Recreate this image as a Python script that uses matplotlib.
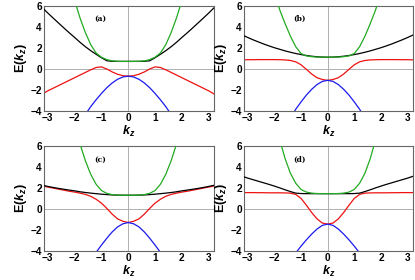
import numpy as np
import matplotlib
matplotlib.use("Agg")
import matplotlib.pyplot as plt

nan = np.nan

# band energies E(kz) for four parameter sets
kz = [-3.2, -3.0, -2.8, -2.6, -2.4, -2.2, -2.0, -1.8, -1.6, -1.4, -1.2, -1.0,
      -0.8, -0.6, -0.4, -0.2, 0.0, 0.2, 0.4, 0.6, 0.8, 1.0, 1.2, 1.4, 1.6,
      1.8, 2.0, 2.2, 2.4, 2.6, 2.8, 3.0, 3.2]

a_black = [5.80, 5.30, 4.82, 4.35, 3.88, 3.42, 2.98, 2.52, 2.10, 1.72, 1.38, 1.05,
           0.76, 0.71, 0.70, 0.70, 0.70, 0.70, 0.70, 0.71, 0.76, 1.05, 1.38, 1.72,
           2.10, 2.52, 2.98, 3.42, 3.88, 4.35, 4.82, 5.30, 5.80]
a_green = [nan] * 6 + [6.50, 4.85, 3.45, 2.30, 1.50, 1.10, 0.87, 0.75, 0.71, 0.70,
                      0.70,
                      0.70, 0.71, 0.75, 0.87, 1.10, 1.50, 2.30, 3.45, 4.85, 6.50] + [nan] * 6
a_red = [-2.40, -2.10, -1.85, -1.60, -1.35, -1.10, -0.85, -0.60, -0.35, -0.10, 0.12, 0.18,
         -0.02, -0.30, -0.52, -0.66, -0.70, -0.66, -0.52, -0.30, -0.02, 0.18, 0.12, -0.10,
         -0.35, -0.60, -0.85, -1.10, -1.35, -1.60, -1.85, -2.10, -2.40]
a_blue = [nan] * 8 + [-4.35, -3.60, -2.95, -2.35, -1.80, -1.35, -1.00, -0.78,
                     -0.70,
                     -0.78, -1.00, -1.35, -1.80, -2.35, -2.95, -3.60, -4.35] + [nan] * 8

b_black = [3.20, 2.97, 2.75, 2.55, 2.35, 2.17, 2.00, 1.85, 1.70, 1.57, 1.45, 1.35,
           1.26, 1.19, 1.14, 1.11, 1.10, 1.11, 1.14, 1.19, 1.26, 1.35, 1.45, 1.57,
           1.70, 1.85, 2.00, 2.17, 2.35, 2.55, 2.75, 2.97, 3.20]
b_green = [nan] * 6 + [7.20, 5.60, 4.30, 3.10, 2.10, 1.45, 1.22, 1.15, 1.11, 1.10,
                      1.10,
                      1.10, 1.11, 1.15, 1.22, 1.45, 2.10, 3.10, 4.30, 5.60, 7.20] + [nan] * 6
b_red = [0.85, 0.86, 0.86, 0.87, 0.87, 0.87, 0.87, 0.86, 0.84, 0.79, 0.66, 0.38,
         -0.05, -0.50, -0.85, -1.02, -1.10, -1.02, -0.85, -0.50, -0.05, 0.38, 0.66, 0.79,
         0.84, 0.86, 0.87, 0.87, 0.87, 0.87, 0.86, 0.86, 0.85]
b_blue = [nan] * 9 + [-4.70, -3.85, -3.15, -2.50, -1.95, -1.50, -1.20,
                     -1.10,
                     -1.20, -1.50, -1.95, -2.50, -3.15, -3.85, -4.70] + [nan] * 9

c_black = [2.25, 2.14, 2.04, 1.95, 1.87, 1.79, 1.72, 1.63, 1.56, 1.50, 1.45, 1.40,
           1.36, 1.33, 1.31, 1.30, 1.30, 1.30, 1.31, 1.33, 1.36, 1.40, 1.45, 1.50,
           1.56, 1.63, 1.72, 1.79, 1.87, 1.95, 2.04, 2.14, 2.25]
c_green = [nan] * 7 + [6.20, 4.60, 3.30, 2.35, 1.75, 1.48, 1.36, 1.31, 1.30,
                      1.30,
                      1.30, 1.31, 1.36, 1.48, 1.75, 2.35, 3.30, 4.60, 6.20] + [nan] * 7
c_red = [2.18, 2.08, 1.98, 1.88, 1.78, 1.68, 1.60, 1.50, 1.38, 1.20, 0.92, 0.55,
         0.05, -0.50, -0.95, -1.18, -1.30, -1.18, -0.95, -0.50, 0.05, 0.55, 0.92, 1.20,
         1.38, 1.50, 1.60, 1.68, 1.78, 1.88, 1.98, 2.08, 2.18]
c_blue = [nan] * 10 + [-4.15, -3.45, -2.80, -2.20, -1.72, -1.42,
                      -1.30,
                      -1.42, -1.72, -2.20, -2.80, -3.45, -4.15] + [nan] * 10

d_black = [3.10, 2.93, 2.78, 2.63, 2.48, 2.33, 2.17, 2.00, 1.82, 1.65, 1.50, 1.46,
           1.45, 1.45, 1.45, 1.45, 1.45, 1.45, 1.45, 1.45, 1.45, 1.46, 1.50, 1.65,
           1.82, 2.00, 2.17, 2.33, 2.48, 2.63, 2.78, 2.93, 3.10]
d_green = [nan] * 7 + [6.60, 4.80, 3.40, 2.45, 1.85, 1.60, 1.50, 1.46, 1.45,
                      1.45,
                      1.45, 1.46, 1.50, 1.60, 1.85, 2.45, 3.40, 4.80, 6.60] + [nan] * 7
d_red = [1.55, 1.55, 1.55, 1.54, 1.54, 1.53, 1.53, 1.53, 1.52, 1.50, 1.38, 1.00,
         0.35, -0.35, -0.95, -1.35, -1.45, -1.35, -0.95, -0.35, 0.35, 1.00, 1.38, 1.50,
         1.52, 1.53, 1.53, 1.53, 1.54, 1.54, 1.55, 1.55, 1.55]
d_blue = [nan] * 10 + [-4.20, -3.55, -2.95, -2.40, -1.92, -1.57,
                      -1.45,
                      -1.57, -1.92, -2.40, -2.95, -3.55, -4.20] + [nan] * 10

panels = [
    ("(a)", a_black, a_green, a_red, a_blue),
    ("(b)", b_black, b_green, b_red, b_blue),
    ("(c)", c_black, c_green, c_red, c_blue),
    ("(d)", d_black, d_green, d_red, d_blue),
]

# axes boxes in figure fractions (left, bottom, width, height)
boxes = [
    [0.106, 0.604, 0.410, 0.376],
    [0.588, 0.604, 0.407, 0.376],
    [0.106, 0.104, 0.410, 0.375],
    [0.588, 0.104, 0.407, 0.375],
]

plt.rcParams['font.family'] = ['Liberation Sans', 'DejaVu Sans']
plt.rcParams['mathtext.fontset'] = 'custom'
plt.rcParams['mathtext.it'] = 'Liberation Sans:italic'
plt.rcParams['mathtext.bf'] = 'Liberation Sans:bold'
plt.rcParams['mathtext.bfit'] = 'Liberation Sans:italic:bold'
fig = plt.figure(figsize=(4.15, 2.8), dpi=100)

for (label, black, green, red, blue), box in zip(panels, boxes):
    ax = fig.add_axes(box)
    ax.axhline(0, color='#b0b0b0', lw=0.7, zorder=1)
    ax.axvline(0, color='#b0b0b0', lw=0.7, zorder=1)
    ax.plot(kz, red, color='#ee1111', lw=0.9, zorder=2)
    ax.plot(kz, blue, color='#1a1aee', lw=0.9, zorder=2)
    ax.plot(kz, black, color='black', lw=0.9, zorder=3)
    ax.plot(kz, green, color='#22aa22', lw=0.9, zorder=4)
    ax.set_xlim(-3.14, 3.2)
    ax.set_ylim(-4, 6)
    ax.set_xticks([-3, -2, -1, 0, 1, 2, 3])
    ax.set_yticks([-4, -2, 0, 2, 4, 6])
    ax.tick_params(length=0, labelsize=7.2, pad=1.5)
    for t in ax.get_xticklabels() + ax.get_yticklabels():
        t.set_fontweight('bold')
    for s in ax.spines.values():
        s.set_color('#666666')
        s.set_linewidth(0.8)
    ax.set_xlabel(r'$\mathbfit{k}_\mathbfit{z}$', fontsize=9, labelpad=1)
    ax.set_ylabel(r'E($\mathbfit{k}_\mathbfit{z}$)', fontsize=9, labelpad=1,
                  fontweight='bold')
    ax.text(-1.05, 4.7, label, fontsize=5.5, family='DejaVu Serif',
            fontweight='bold', ha='center', va='center')

fig.savefig('out.png', dpi=100)
